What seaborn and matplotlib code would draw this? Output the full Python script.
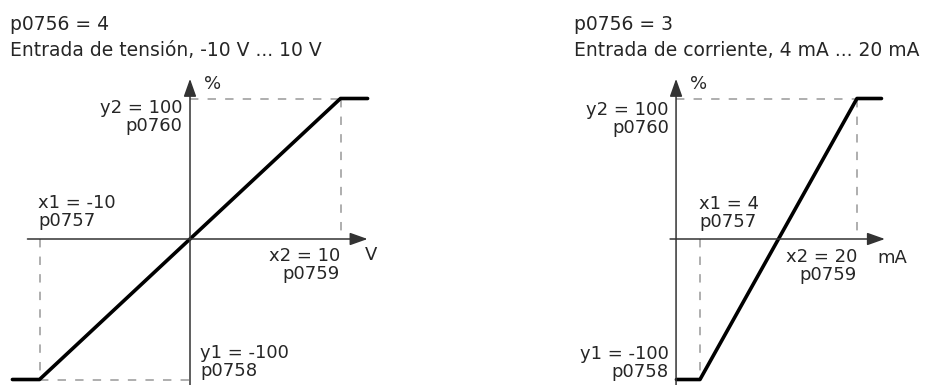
import seaborn as sns
import matplotlib.pyplot as plt
import pandas as pd

# characteristic points (x1, x2, y1, y2) and curve with flat ends
volt_x = [-11.8, -10, 10, 11.8]
volt_y = [-100, -100, 100, 100]
curr_x = [1.6, 4, 20, 22.5]
curr_y = [-100, -100, 100, 100]

volt_x1, volt_x2 = -10, 10
curr_x1, curr_x2 = 4, 20
y1, y2 = -100, 100

sns.set_theme(style="white")
plt.rcParams['font.family'] = ['DejaVu Sans']

fig = plt.figure(figsize=(9.27, 3.85), dpi=100)
H = 385.0
W = 927.0
top_px = 60
ax_l = fig.add_axes([0, 0, 400 / W, (H - top_px) / H])
ax_r = fig.add_axes([480 / W, 0, (W - 480) / W, (H - top_px) / H])

ysc = 1.405
ax_l.set_xlim((0 - 190) / 15.05, (400 - 190) / 15.05)
ax_r.set_xlim((480 - 660.75) / 9.81, (927 - 660.75) / 9.81)
for ax in (ax_l, ax_r):
    ax.set_ylim((239 - H) / ysc, (239 - top_px) / ysc)
    ax.axis("off")

axis_col = "#333333"
dash_col = "#999999"
txt_col = "#262626"
fs = 13
ls = 1.0


def draw_axes(ax, x_from, x_to, y_at, y_from, y_to):
    ax.annotate("", xy=(x_to, 0), xytext=(x_from, 0),
                arrowprops=dict(arrowstyle="-|>,head_length=0.9,head_width=0.32",
                                color=axis_col, lw=1.1, shrinkA=0, shrinkB=0))
    ax.annotate("", xy=(y_at, y_to), xytext=(y_at, y_from),
                arrowprops=dict(arrowstyle="-|>,head_length=0.9,head_width=0.32",
                                color=axis_col, lw=1.1, shrinkA=0, shrinkB=0))


def label(ax, x, y, s, ha):
    ax.text(x, y, s, fontsize=fs, ha=ha, va="center", linespacing=ls, color=txt_col)


dash = dict(color=dash_col, lw=1.1, dashes=(5.5, 6))

# left: voltage input
draw_axes(ax_l, -10.8, 11.8, 0, -104, 114)
ax_l.plot([0, volt_x2], [y2, y2], **dash)
ax_l.plot([volt_x2, volt_x2], [y2, 0], **dash)
ax_l.plot([volt_x1, volt_x1], [0, y1], **dash)
ax_l.plot([volt_x1, 0], [y1, y1], **dash)
sns.lineplot(data=pd.DataFrame({"x": volt_x, "y": volt_y}), x="x", y="y",
             ax=ax_l, color="black", lw=2.6, sort=False)

label(ax_l, 0.9, 110, "%", "left")
label(ax_l, -0.5, 86.8, "y2 = 100\np0760", "right")
label(ax_l, -10.1, 19.2, "x1 = -10\np0757", "left")
label(ax_l, 9.97, -18.5, "x2 = 10\np0759", "right")
label(ax_l, 11.6, -11.4, "V", "left")
label(ax_l, 0.66, -87.5, "y1 = -100\np0758", "left")

# right: current input
draw_axes(ax_r, 0.95, 22.85, 1.56, -104, 114)
ax_r.plot([1.56, curr_x2], [y2, y2], **dash)
ax_r.plot([curr_x2, curr_x2], [y2, 0], **dash)
ax_r.plot([curr_x1, curr_x1], [0, y1], **dash)
sns.lineplot(data=pd.DataFrame({"x": curr_x, "y": curr_y}), x="x", y="y",
             ax=ax_r, color="black", lw=2.6, sort=False)

label(ax_r, 2.98, 110, "%", "left")
label(ax_r, 0.84, 85.7, "y2 = 100\np0760", "right")
label(ax_r, 3.9, 18.6, "x1 = 4\np0757", "left")
label(ax_r, 20, -19.3, "x2 = 20\np0759", "right")
label(ax_r, 22.1, -13.6, "mA", "left")
label(ax_r, 0.84, -88.6, "y1 = -100\np0758", "right")

# headings
for xpx, lines in ((10, ("p0756 = 4", "Entrada de tensión, -10 V ... 10 V")),
                   (574, ("p0756 = 3", "Entrada de corriente, 4 mA ... 20 mA"))):
    fig.text(xpx / W, 1 - 25 / H, lines[0], fontsize=13.5, ha="left", va="center", color=txt_col)
    fig.text(xpx / W, 1 - 50 / H, lines[1], fontsize=13.5, ha="left", va="center", color=txt_col)

fig.savefig("out.png", dpi=100)
